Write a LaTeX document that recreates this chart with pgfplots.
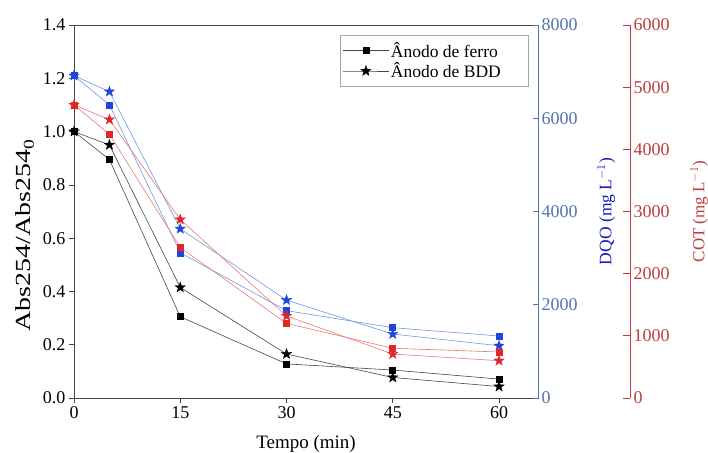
\documentclass[border=0pt]{standalone}
\usepackage{fontspec}
\setmainfont{Liberation Serif}
\usepackage{pgfplots}
\pgfplotsset{compat=1.18}

\definecolor{qblue}{RGB}{30,70,215}
\definecolor{qbluel}{RGB}{110,150,225}
\definecolor{qblueax}{RGB}{80,115,175}
\definecolor{qbluelab}{RGB}{25,25,190}
\definecolor{qred}{RGB}{225,40,40}
\definecolor{qredl}{RGB}{235,120,120}
\definecolor{qredax}{RGB}{190,60,60}
\definecolor{qgray}{RGB}{70,70,70}

% filled five-pointed star
\pgfdeclareplotmark{fstar}{%
  \pgfpathmoveto{\pgfpointpolar{90}{\pgfplotmarksize}}%
  \pgfpathlineto{\pgfpointpolar{126}{0.40\pgfplotmarksize}}%
  \pgfpathlineto{\pgfpointpolar{162}{\pgfplotmarksize}}%
  \pgfpathlineto{\pgfpointpolar{198}{0.40\pgfplotmarksize}}%
  \pgfpathlineto{\pgfpointpolar{234}{\pgfplotmarksize}}%
  \pgfpathlineto{\pgfpointpolar{270}{0.40\pgfplotmarksize}}%
  \pgfpathlineto{\pgfpointpolar{306}{\pgfplotmarksize}}%
  \pgfpathlineto{\pgfpointpolar{342}{0.40\pgfplotmarksize}}%
  \pgfpathlineto{\pgfpointpolar{18}{\pgfplotmarksize}}%
  \pgfpathlineto{\pgfpointpolar{54}{0.40\pgfplotmarksize}}%
  \pgfpathclose
  \pgfusepathqfillstroke
}

\pgfplotsset{
  base/.style={
    scale only axis, width=464pt, height=373pt,
    at={(0,0)}, anchor=south west,
    xmin=0, xmax=65.5,
    font=\fontsize{18}{21}\selectfont,
    /pgf/number format/assume math mode=true,
    /pgf/number format/1000 sep={},
    scaled y ticks=false,
    major tick length=5pt,
  },
  sq/.style={mark=square*, mark size=3pt, line width=0.6pt},
  st/.style={mark=fstar, mark size=5.5pt, line width=0.6pt},
}

\begin{document}
\begin{tikzpicture}

% Abs254 axis with time axis
\begin{axis}[base,
    ymin=0, ymax=1.4,
    ytick={0,0.2,...,1.4},
    yticklabel style={/pgf/number format/fixed, /pgf/number format/fixed zerofill, /pgf/number format/precision=1},
    xtick={0,15,30,45,60},
    xtick pos=bottom, ytick pos=left, tick align=outside,
    axis line style={line width=0.7pt, qgray},
    tick style={qgray, line width=0.7pt},
    xlabel={Tempo (min)},
    ylabel={\scalebox{1.3}[1]{Abs254/Abs254\textsubscript{0}}},
    xlabel style={yshift=-10pt, font=\fontsize{19}{22}\selectfont},
    ylabel style={yshift=2pt, xshift=-24pt, font=\fontsize{21.5}{25}\selectfont},
    legend style={at={(1,1)}, anchor=north east, xshift=-10pt, yshift=-10pt,
      draw=gray!70, font=\fontsize{17.5}{20}\selectfont, row sep=0pt,
      inner xsep=3pt, inner ysep=5pt},
    legend cell align=left,
    legend image code/.code={\draw[mark repeat=2, mark phase=2] plot coordinates {(0cm,0cm) (0.8cm,0cm) (1.6cm,0cm)};},
]
\addplot[sq, color=qgray, mark options={fill=black, draw=black}] coordinates {
  (0,1.00) (5,0.895) (15,0.305) (30,0.128) (45,0.105) (60,0.071)
};
\addlegendentry{Ânodo de ferro\kern22pt}
\addplot[st, color=qgray, mark options={fill=black, draw=black, line width=0.3pt}] coordinates {
  (0,1.00) (5,0.950) (15,0.415) (30,0.165) (45,0.077) (60,0.043)
};
\addlegendentry{Ânodo de BDD\kern22pt}
\end{axis}

% COD (DQO) axis
\begin{axis}[base,
    hide x axis,
    axis y line*=right,
    ymin=0, ymax=8000,
    ytick={0,2000,4000,6000,8000},
    tick align=inside,
    y axis line style={qblueax, line width=0.8pt},
    ytick style={qblueax, line width=0.8pt},
    yticklabel style={qblueax},
    ylabel={DQO (mg L$^{-1}$)},
    ylabel style={qbluelab, yshift=-13pt, font=\fontsize{17.5}{20}\selectfont},
]
\addplot[sq, color=qbluel, mark options={fill=qblue, draw=qblue}] coordinates {
  (0,6914) (5,6286) (15,3114) (30,1874) (45,1508) (60,1330)
};
\addplot[st, color=qbluel, mark options={fill=qblue, draw=qblue, line width=0.3pt}] coordinates {
  (0,6914) (5,6571) (15,3629) (30,2100) (45,1372) (60,1121)
};
\end{axis}

% TOC (COT) data
\begin{axis}[base, hide axis, ymin=0, ymax=6000]
\addplot[sq, color=qredl, mark options={fill=qred, draw=qred}] coordinates {
  (0,4714) (5,4243) (15,2421) (30,1200) (45,800) (60,740)
};
\addplot[st, color=qredl, mark options={fill=qred, draw=qred, line width=0.3pt}] coordinates {
  (0,4714) (5,4479) (15,2871) (30,1320) (45,707) (60,600)
};
\end{axis}

% TOC (COT) offset axis
\begin{axis}[base, at={(92pt,0)},
    hide x axis,
    axis y line*=right,
    ymin=0, ymax=6000,
    ytick={0,1000,...,6000},
    tick align=inside,
    major tick length=7pt,
    y axis line style={qredax, line width=0.8pt},
    ytick style={qredax, line width=0.8pt},
    yticklabel style={qredax},
    ylabel={COT (mg L$^{-1}$)},
    ylabel style={qredax, yshift=-14pt, font=\fontsize{17}{20}\selectfont},
]
\end{axis}

\pgfresetboundingbox
\path (-74pt,-54pt) rectangle (634pt,398pt);
\end{tikzpicture}
\end{document}
